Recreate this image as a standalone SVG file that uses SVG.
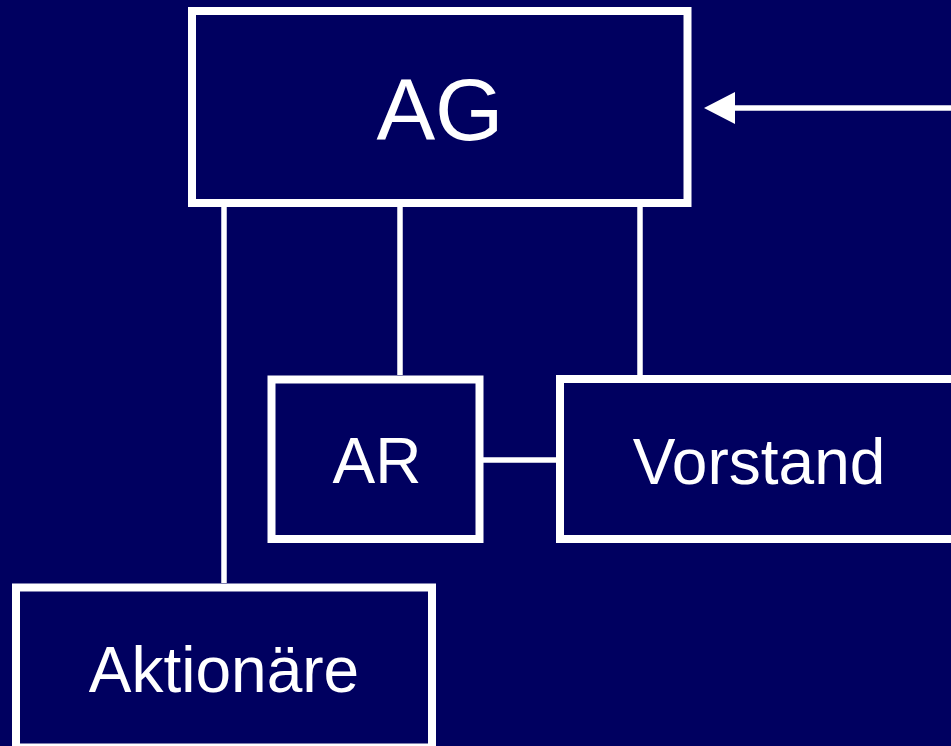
<svg xmlns="http://www.w3.org/2000/svg" width="951" height="746" viewBox="0 0 951 746">
<style>
.box{fill:#000060;stroke:#fff;stroke-width:8}
.lbl{fill:#fff;font-family:"Liberation Sans",Arial,sans-serif;text-anchor:middle}
.con{stroke:#fff;stroke-width:5.5;fill:none}
</style>
<defs>
<marker id="ah" markerUnits="userSpaceOnUse" markerWidth="32" markerHeight="32" refX="0" refY="16" orient="auto" overflow="visible">
<polygon points="0,0 31,16 0,32" fill="#fff"/>
</marker>
</defs>
<rect width="951" height="746" fill="#000060"/>
<g id="connectors">
<line class="con" x1="224" y1="207" x2="224" y2="583"/>
<line class="con" x1="400" y1="207" x2="400" y2="375"/>
<line class="con" x1="640" y1="207" x2="640" y2="375"/>
<line class="con" x1="483" y1="460" x2="556" y2="460"/>
<line class="con" x1="951" y1="108" x2="735" y2="108" marker-end="url(#ah)"/>
</g>
<g id="AG">
<rect class="box" x="192" y="11" width="495.5" height="192"/>
<text class="lbl" x="440" y="140" font-size="88">AG</text>
</g>
<g id="AR">
<rect class="box" x="271.5" y="379.5" width="208" height="159.5"/>
<text class="lbl" x="377" y="483" font-size="64">AR</text>
</g>
<g id="Vorstand">
<rect class="box" x="560" y="379" width="400" height="160"/>
<text class="lbl" x="759" y="484" font-size="64">Vorstand</text>
</g>
<g id="Aktionaere">
<rect class="box" x="16" y="587.5" width="416" height="160"/>
<text class="lbl" x="224" y="692" font-size="64">Aktionäre</text>
</g>
</svg>
